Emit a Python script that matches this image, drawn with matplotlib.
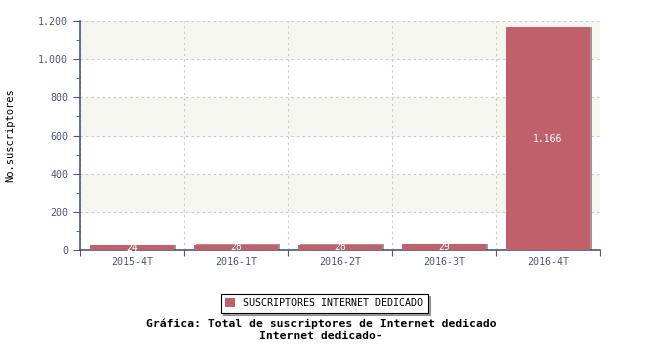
import matplotlib.pyplot as plt
import matplotlib.ticker as ticker

# datos
periodos = ['2015-4T', '2016-1T', '2016-2T', '2016-3T', '2016-4T']
suscriptores = [24, 28, 28, 29, 1166]
serie = 'SUSCRIPTORES INTERNET DEDICADO'

color_barra = '#bf606a'
color_eje = '#4a5878'
fuente = 'DejaVu Sans Mono'

def miles(v):
    return '{:,.0f}'.format(v).replace(',', '.')

fig = plt.figure(figsize=(6.5, 3.5), dpi=100)
ax = fig.add_axes([80/650, 1-250/350, 520/650, 229/350])

# bandas alternas de fondo
for y0 in range(200, 1200, 400):
    ax.axhspan(y0, y0 + 200, color='#f6f6f1', zorder=0)

x = list(range(len(periodos)))
# sombra de las barras
ax.bar([i + 0.02 for i in x], [v + 4 for v in suscriptores], width=0.8, color='#b09090', zorder=2)
barras = ax.bar(x, suscriptores, width=0.8, color=color_barra, zorder=3, label=serie)

for i, v in enumerate(suscriptores):
    ax.text(i, v / 2, miles(v), ha='center', va='center', color='white',
            fontsize=7, family=fuente, zorder=4)

ax.set_xlim(-0.5, len(periodos) - 0.5)
ax.set_ylim(0, 1200)

ax.yaxis.set_major_locator(ticker.MultipleLocator(200))
ax.yaxis.set_minor_locator(ticker.MultipleLocator(100))
ax.yaxis.set_major_formatter(ticker.FuncFormatter(lambda v, p: miles(v)))

ax.set_xticks([i + 0.5 for i in range(-1, len(periodos))])
ax.set_xticklabels([])
ax.set_xticks(x, minor=True)
ax.set_xticklabels(periodos, minor=True)
ax.tick_params(axis='x', which='minor', length=0, pad=5)
ax.tick_params(axis='x', which='major', length=4, direction='out', color=color_eje)
ax.tick_params(axis='y', which='major', length=5, direction='out', color=color_eje)
ax.tick_params(axis='y', which='minor', length=3, direction='out', color=color_eje)
ax.tick_params(axis='both', which='both', labelcolor=color_eje, labelsize=7.2)
for lab in ax.get_xticklabels(minor=True) + ax.get_yticklabels():
    lab.set_family(fuente)

ax.grid(True, axis='y', which='major', linestyle=(0, (2, 3)), color='#c8c8c8', linewidth=0.8, zorder=1)
ax.grid(True, axis='x', which='major', linestyle=(0, (2, 3)), color='#c8c8c8', linewidth=0.8, zorder=1)

for s in ['top', 'right']:
    ax.spines[s].set_visible(False)
ax.spines['left'].set_color(color_eje)
ax.spines['bottom'].set_color(color_eje)
ax.spines['left'].set_linewidth(1.2)
ax.spines['bottom'].set_linewidth(1.2)

fig.text(10/650, 1-135/350, 'No.suscriptores', rotation=90, ha='center', va='center',
         fontsize=7.5, family=fuente, color='black')

leg = fig.legend(handles=[barras], labels=[serie], loc='center', bbox_to_anchor=(324/650, 1-303/350),
                 prop={'family': fuente, 'size': 7.2}, fancybox=False, shadow=True,
                 edgecolor='black', framealpha=1, handlelength=1, handleheight=1,
                 borderpad=0.45)
leg.get_frame().set_linewidth(0.8)

fig.text(321/650, 1-324/350, 'Gráfica: Total de suscriptores de Internet dedicado',
         ha='center', va='center', fontsize=8.2, family=fuente, fontweight='bold')
fig.text(321/650, 1-336/350, 'Internet dedicado-',
         ha='center', va='center', fontsize=8.2, family=fuente, fontweight='bold')

fig.savefig('out.png', dpi=100)
